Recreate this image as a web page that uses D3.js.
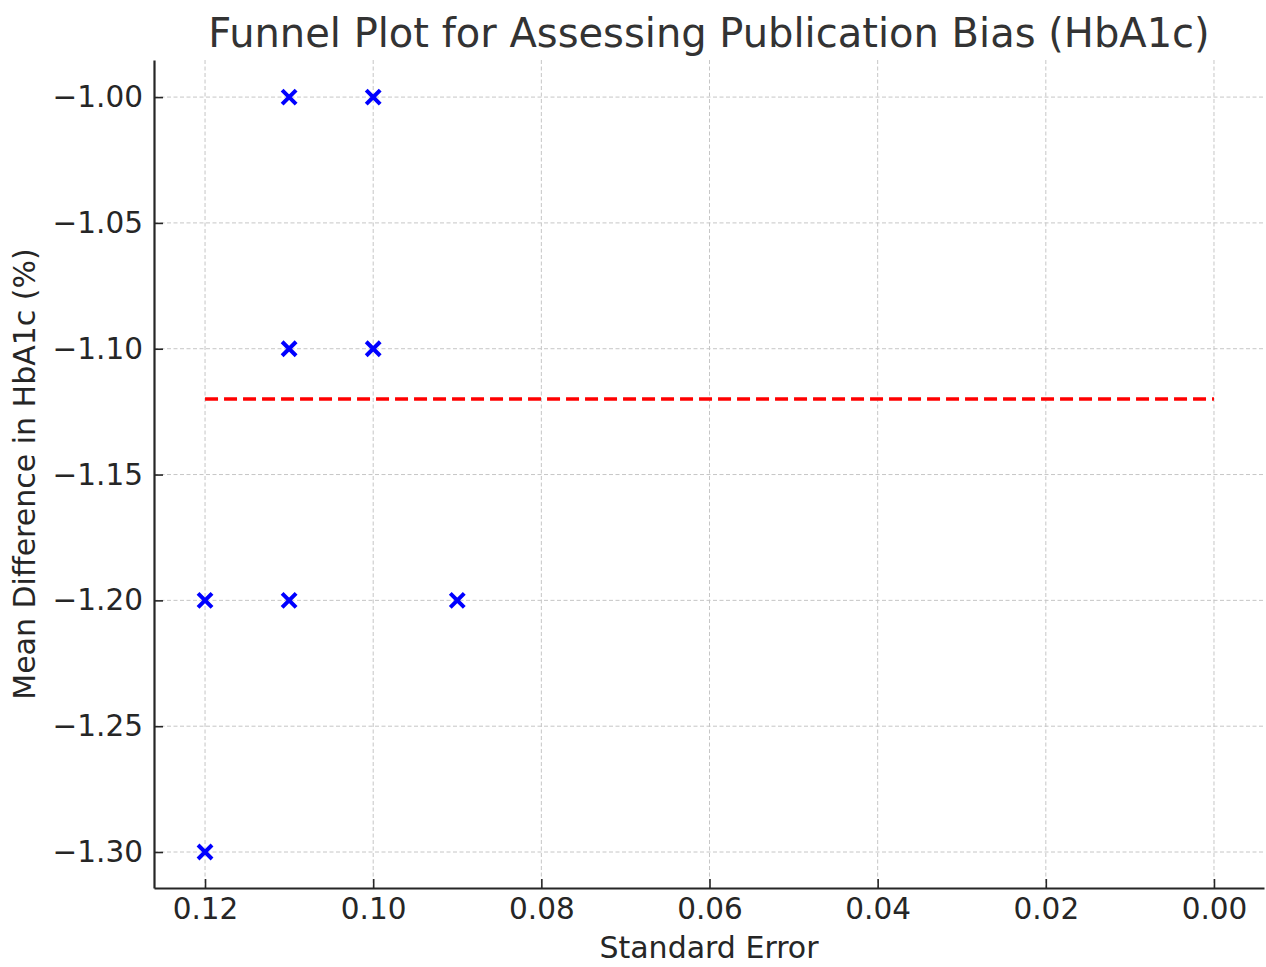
<!DOCTYPE html>
<html>
<head>
    <meta charset="utf-8">
    <title>Funnel Plot</title>
    <script src="https://d3js.org/d3.v7.min.js"></script>
    <style>
        body {
            margin: 0;
            background: #fff;
            font-family: "DejaVu Sans", sans-serif;
        }
        .grid line {
            stroke: #c6c6c6;
            stroke-width: 1;
            stroke-dasharray: 4,2.5;
        }
        .axis text {
            font-family: "DejaVu Sans", sans-serif;
            font-size: 29.5px;
            fill: #262626;
        }
        .axis line, .axis path {
            stroke: #262626;
        }
    </style>
</head>
<body>
    <div id="chart"></div>

    <script>
        // study standard errors and mean differences
        const stdErrors = [0.12, 0.12, 0.11, 0.11, 0.11, 0.10, 0.10, 0.09];
        const meanDiffs = [-1.20, -1.30, -1.00, -1.10, -1.20, -1.00, -1.10, -1.20];
        const pooledEffect = -1.12;
        const pooledRange = [0.12, 0.00];
        const xTicks = [0.12, 0.10, 0.08, 0.06, 0.04, 0.02, 0.00];
        const yTicks = [-1.00, -1.05, -1.10, -1.15, -1.20, -1.25, -1.30];

        const width = 1266, height = 967;
        const margin = {top: 60, right: 2, bottom: 79, left: 154};
        const innerW = width - margin.left - margin.right;
        const innerH = height - margin.top - margin.bottom;

        const svg = d3.select("#chart")
            .append("svg")
            .attr("width", width)
            .attr("height", height);

        const g = svg.append("g")
            .attr("transform", `translate(${margin.left},${margin.top})`);

        // reversed x axis, as in the original
        const x = d3.scaleLinear()
            .domain([0.12607, -0.00595])
            .range([0, innerW]);

        const y = d3.scaleLinear()
            .domain([-1.3143, -0.98526])
            .range([innerH, 0]);

        // grid
        g.append("g")
            .attr("class", "grid")
            .selectAll("line")
            .data(xTicks)
            .enter()
            .append("line")
            .attr("x1", d => x(d)).attr("x2", d => x(d))
            .attr("y1", 0).attr("y2", innerH);

        g.append("g")
            .attr("class", "grid")
            .selectAll("line")
            .data(yTicks)
            .enter()
            .append("line")
            .attr("x1", 0).attr("x2", innerW)
            .attr("y1", d => y(d)).attr("y2", d => y(d));

        // pooled effect line
        g.append("line")
            .attr("x1", x(pooledRange[0]))
            .attr("x2", x(pooledRange[1]))
            .attr("y1", y(pooledEffect))
            .attr("y2", y(pooledEffect))
            .attr("stroke", "#ff0000")
            .attr("stroke-width", 3.5)
            .attr("stroke-dasharray", "13,6");

        // study markers
        const points = stdErrors.map((se, i) => ({se: se, md: meanDiffs[i]}));
        const s = 7;
        g.append("g")
            .selectAll("path")
            .data(points)
            .enter()
            .append("path")
            .attr("d", d => {
                const cx = x(d.se), cy = y(d.md);
                return `M${cx - s},${cy - s}L${cx + s},${cy + s}M${cx - s},${cy + s}L${cx + s},${cy - s}`;
            })
            .attr("stroke", "#0000ff")
            .attr("stroke-width", 4)
            .attr("fill", "none");

        // axes, ticks pointing inward
        const xAxis = g.append("g")
            .attr("class", "axis")
            .attr("transform", `translate(0,${innerH})`)
            .call(d3.axisBottom(x)
                .tickValues(xTicks)
                .tickFormat(d3.format(".2f"))
                .tickSizeInner(-9)
                .tickSizeOuter(0)
                .tickPadding(10));
        xAxis.select(".domain").attr("stroke-width", 2.2);
        xAxis.selectAll(".tick line").attr("stroke-width", 1.6);

        const yAxis = g.append("g")
            .attr("class", "axis")
            .call(d3.axisLeft(y)
                .tickValues(yTicks)
                .tickFormat(d => d3.format(".2f")(d).replace("-", "\u2212"))
                .tickSizeInner(-9)
                .tickSizeOuter(0)
                .tickPadding(11));
        yAxis.select(".domain").attr("stroke-width", 2.2);
        yAxis.selectAll(".tick line").attr("stroke-width", 1.6);

        // title and labels
        svg.append("text")
            .attr("x", margin.left + innerW / 2)
            .attr("y", 47)
            .attr("text-anchor", "middle")
            .attr("font-size", 40)
            .attr("fill", "#333")
            .text("Funnel Plot for Assessing Publication Bias (HbA1c)");

        svg.append("text")
            .attr("x", margin.left + innerW / 2)
            .attr("y", 958)
            .attr("text-anchor", "middle")
            .attr("font-size", 30)
            .attr("fill", "#262626")
            .text("Standard Error");

        svg.append("text")
            .attr("transform", `translate(35,${margin.top + innerH / 2}) rotate(-90)`)
            .attr("text-anchor", "middle")
            .attr("font-size", 30)
            .attr("fill", "#262626")
            .text("Mean Difference in HbA1c (%)");
    </script>
</body>
</html>
